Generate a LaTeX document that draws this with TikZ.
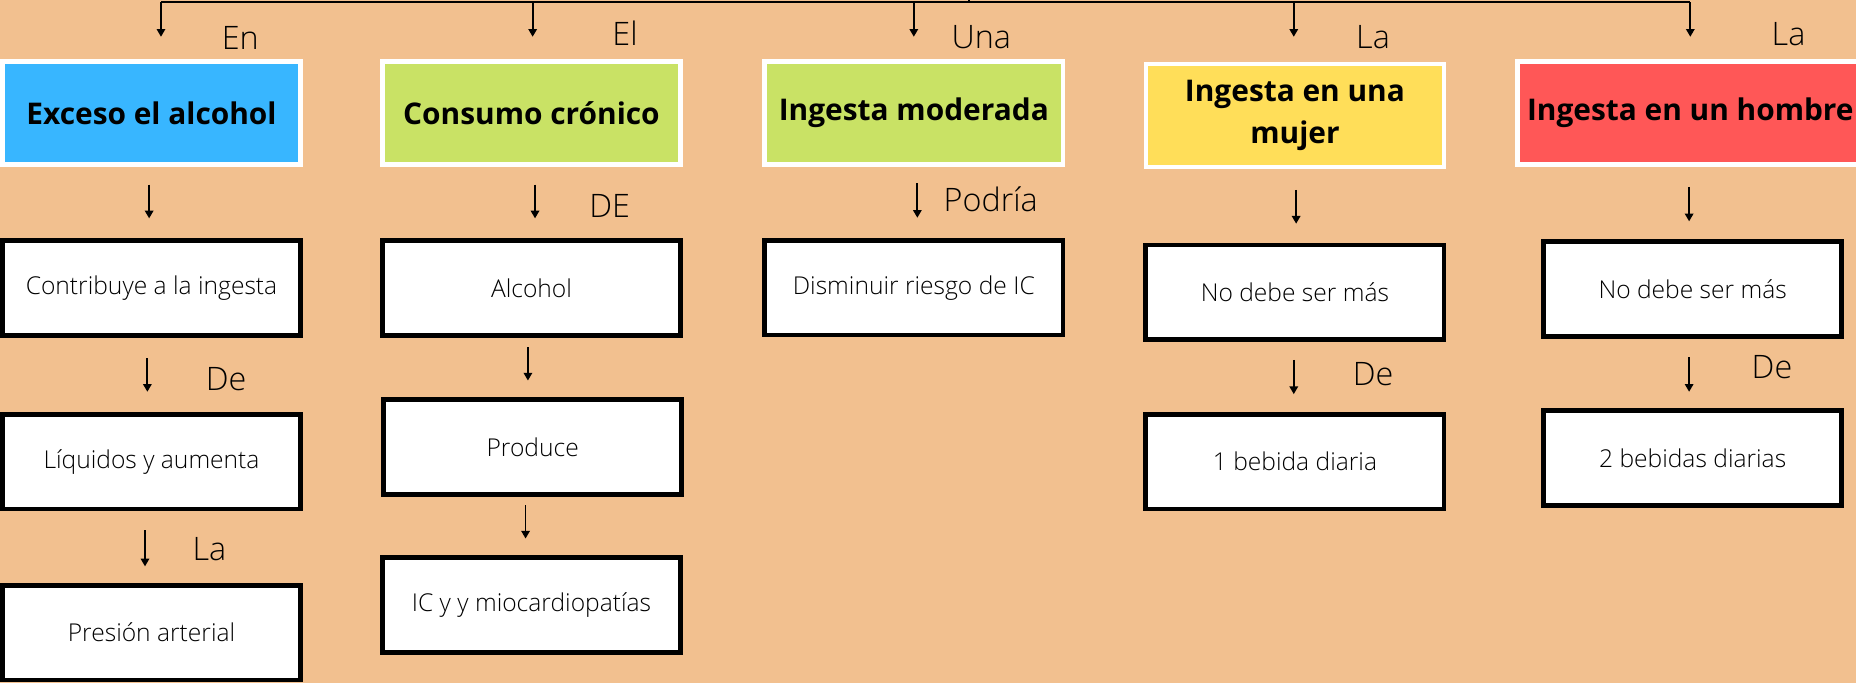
\documentclass[tikz,border=0pt]{standalone}
\usepackage{fontspec}
\setmainfont{Open Sans}
\newfontfamily\lightfont{Open Sans Light}
\usetikzlibrary{arrows.meta}
\definecolor{bgpeach}{HTML}{F2C08F}
\definecolor{myblue}{HTML}{38B6FF}
\definecolor{mygreen}{HTML}{C9E265}
\definecolor{myyellow}{HTML}{FFDE59}
\definecolor{myred}{HTML}{FF5757}
\newcommand{\upx}{0.011837cm}
\tikzset{
	headnode/.style={
			shape=rectangle,
			draw=white,
			line width=1.3pt,
			minimum width=252*\upx,
			minimum height=87*\upx,
			inner sep=0pt,
			align=center,
			font=\fontsize{8.5}{11.8}\selectfont\bfseries
		},
	boxnode/.style={
			shape=rectangle,
			draw=black,
			fill=white,
			line width=1.35pt,
			minimum width=252*\upx,
			minimum height=80*\upx,
			inner sep=0pt,
			font=\fontsize{7}{8}\selectfont\lightfont
		},
	linktext/.style={
			inner sep=0pt,
			font=\fontsize{9.2}{10}\selectfont\lightfont
		}
}
\tikzset{
	arr/.style={-{Triangle[length=2.2pt,width=2.4pt]}, line width=0.5pt},
	gap/.style 2 args={shorten <=#1*\upx, shorten >=#2*\upx}
}

\begin{document}
\begin{tikzpicture}[x=\upx, y=-\upx]

  \useasboundingbox (0,0) rectangle (1568,577);
  \fill[bgpeach] (0,0) rectangle (1568,577);

  \coordinate (t1) at (136,2);
  \coordinate (t2) at (450,2);
  \coordinate (t3) at (772,2);
  \coordinate (t4) at (1093,2);
  \coordinate (t5) at (1428,2);
  \coordinate (tc) at (819,2);
  \coordinate (tp) at (819,-10);
  \draw[line width=0.55pt] (t1) -- (t5);
  \draw[line width=0.55pt] (tp) -- (tc);

  \node[headnode, fill=myblue] (b1) at (128,95.5) {Exceso el alcohol};
  \node[headnode, fill=mygreen] (b2) at (449,95.5) {Consumo crónico};
  \node[headnode, fill=mygreen] (b3) at (772,95.5) {Ingesta moderada};
  \node[headnode, fill=myyellow] (b4) at (1094,97.5) {Ingesta en una\\mujer};
  \node[headnode, fill=myred, minimum width=292*\upx] (b5) at (1428,95.5) {Ingesta en un hombre};

  \node[boxnode] (c1) at (128,243.5) {Contribuye a la ingesta};
  \node[boxnode] (c2) at (449,243.5) {Alcohol};
  \node[boxnode] (c3) at (772,243) {Disminuir riesgo de IC};
  \node[boxnode] (c4) at (1094,247) {No debe ser más};
  \node[boxnode] (c5) at (1430,244) {No debe ser más};

  \node[boxnode] (d1) at (128,390) {Líquidos y aumenta};
  \node[boxnode] (d2) at (450,377.5) {Produce};
  \node[boxnode] (d4) at (1094,390) {1 bebida diaria};
  \node[boxnode] (d5) at (1430,387) {2 bebidas diarias};

  \node[boxnode] (e1) at (128,534.5) {Presión arterial};
  \node[boxnode] (e2) at (449,511) {IC y y miocardiopatías};

  \draw[arr, gap={0}{19}] (t1) -- (t1 |- b1.north);
  \draw[arr, gap={0}{19}] (t2) -- (t2 |- b2.north);
  \draw[arr, gap={0}{19}] (t3) -- (t3 |- b3.north);
  \draw[arr, gap={0}{21}] (t4) -- (t4 |- b4.north);
  \draw[arr, gap={0}{19}] (t5) -- (t5 |- b5.north);

  \draw[arr, gap={15}{17}] ([xshift=-2*\upx]b1.south) -- ([xshift=-2*\upx]c1.north);
  \draw[arr, gap={17}{17}] ([xshift=-3.5*\upx]c1.south) -- ([xshift=-3.5*\upx]d1.north);
  \draw[arr, gap={16}{14}] ([xshift=-5.5*\upx]d1.south) -- ([xshift=-5.5*\upx]e1.north);
  \draw[arr, gap={15}{17}] ([xshift=3*\upx]b2.south) -- ([xshift=3*\upx]c2.north);
  \draw[arr, gap={8}{14}] ([xshift=-3*\upx]c2.south) -- ([xshift=-4*\upx]d2.north);
  \draw[arr, gap={7.5}{14}] ([xshift=-6*\upx]d2.south) -- ([xshift=-5*\upx]e2.north);
  \draw[arr, gap={14}{17}] ([xshift=3*\upx]b3.south) -- ([xshift=3*\upx]c3.north);
  \draw[arr, gap={17.5}{16}] ([xshift=1*\upx]b4.south) -- ([xshift=1*\upx]c4.north);
  \draw[arr, gap={15}{15}] ([xshift=-1*\upx]c4.south) -- ([xshift=-1*\upx]d4.north);
  \draw[arr, gap={17}{15}] ([xshift=-1*\upx]b5.south) -- ([xshift=-1*\upx]b5.south |- c5.north);
  \draw[arr, gap={16}{14}] ([xshift=-3*\upx]c5.south) -- ([xshift=-3*\upx]d5.north);

  \node[linktext] (l1) at (203,32) {En};
  \node[linktext] (l2) at (528,28) {El};
  \node[linktext] (l3) at (829,31) {Una};
  \node[linktext] (l4) at (1160,31) {La};
  \node[linktext] (l5) at (1511,29) {La};
  \node[linktext] (l6) at (515,174) {DE};
  \node[linktext] (l7) at (837,168) {Podría};
  \node[linktext] (l8) at (191,320) {De};
  \node[linktext] (l9) at (1160,316) {De};
  \node[linktext] (l10) at (1497,310) {De};
  \node[linktext] (l11) at (177,464) {La};

\end{tikzpicture}
\end{document}
